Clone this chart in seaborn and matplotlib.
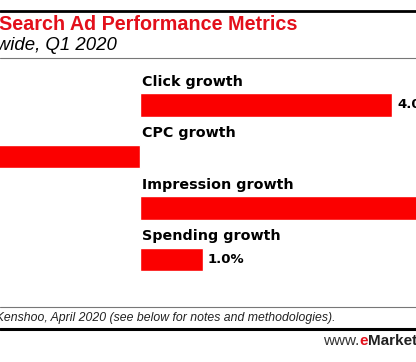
import matplotlib
matplotlib.use('Agg')
import matplotlib.pyplot as plt
from matplotlib.lines import Line2D
import seaborn as sns
import pandas as pd

# ── data ───────────────────────────────────────────────────────────
metrics = ['Click growth', 'CPC growth', 'Impression growth', 'Spending growth']
values = [4.0, -3.0, 14.0, 1.0]
value_labels = ['4.0%', '-3.0%', '14.0%', '1.0%']

title = 'Search Ad Performance Metrics'
subtitle = 'Worldwide, Q1 2020'
source = 'Source: Kenshoo, April 2020 (see below for notes and methodologies).'

df = pd.DataFrame({'metric': metrics, 'value': values})

# ── setup ──────────────────────────────────────────────────────────
sns.set_theme(style='white')
W, H = 416, 362
fig = plt.figure(figsize=(W / 100, H / 100), dpi=100)
fig.patch.set_facecolor('white')


def fx(x):
    return x / W


def fy(y):
    return 1 - y / H


RED = '#fb0000'

# axes: zero line at x=140px, 63px per 1%
ax = fig.add_axes([0, fy(285.25), 1, (285.25 - 79.25) / H])
sns.barplot(data=df, x='value', y='metric', orient='h', color=RED,
            saturation=1, width=0.466, ax=ax)
ax.set_xlim(-140 / 63, (W - 140) / 63)
ax.set_ylim(3.5, -0.5)
ax.axis('off')

half = 0.466 / 2
for i, (name, val, lab) in enumerate(zip(metrics, values, value_labels)):
    ax.text(0.03, i - half - 0.08, name, ha='left', va='bottom',
            fontsize=10.3, fontweight='bold', color='black',
            family='DejaVu Sans')
    if val > 0:
        ax.text(val + 0.08, i, lab, ha='left', va='center',
                fontsize=9.5, fontweight='bold', color='black',
                family='DejaVu Sans')

# ── header / footer ────────────────────────────────────────────────
fig.text(fx(297), fy(25), title, ha='right', va='center', color='#e3101b',
         fontsize=14.2, fontweight='bold', family='Liberation Sans')
fig.text(fx(117), fy(46), subtitle, ha='right', va='center', color='black',
         fontsize=13.4, style='italic', family='Liberation Sans')
fig.text(fx(335), fy(318), source, ha='right', va='center', color='#222222',
         fontsize=8.8, style='italic', family='Liberation Sans')

fig.add_artist(Line2D([0, 1], [fy(11), fy(11)], transform=fig.transFigure,
                      color='black', linewidth=2))
fig.add_artist(Line2D([0, 1], [fy(58), fy(58)], transform=fig.transFigure,
                      color='#777777', linewidth=0.8))
fig.add_artist(Line2D([0, 1], [fy(307), fy(307)], transform=fig.transFigure,
                      color='#777777', linewidth=0.8))
fig.add_artist(Line2D([0, 1], [fy(328.5), fy(328.5)], transform=fig.transFigure,
                      color='black', linewidth=2.2))

t1 = fig.text(fx(323), fy(341), 'www.', ha='left', va='center',
              fontsize=11, color='#333333', family='Liberation Sans')
fig.canvas.draw()
bb = t1.get_window_extent()
t2 = fig.text(bb.x1 / W, fy(341), 'e', ha='left', va='center',
              fontsize=11, fontweight='bold', color='#e3101b',
              family='Liberation Sans')
bb2 = t2.get_window_extent()
fig.text(bb2.x1 / W, fy(341), 'Marketer.com', ha='left', va='center',
         fontsize=11, fontweight='bold', color='#222222',
         family='Liberation Sans')

plt.savefig('out.png', dpi=100)
